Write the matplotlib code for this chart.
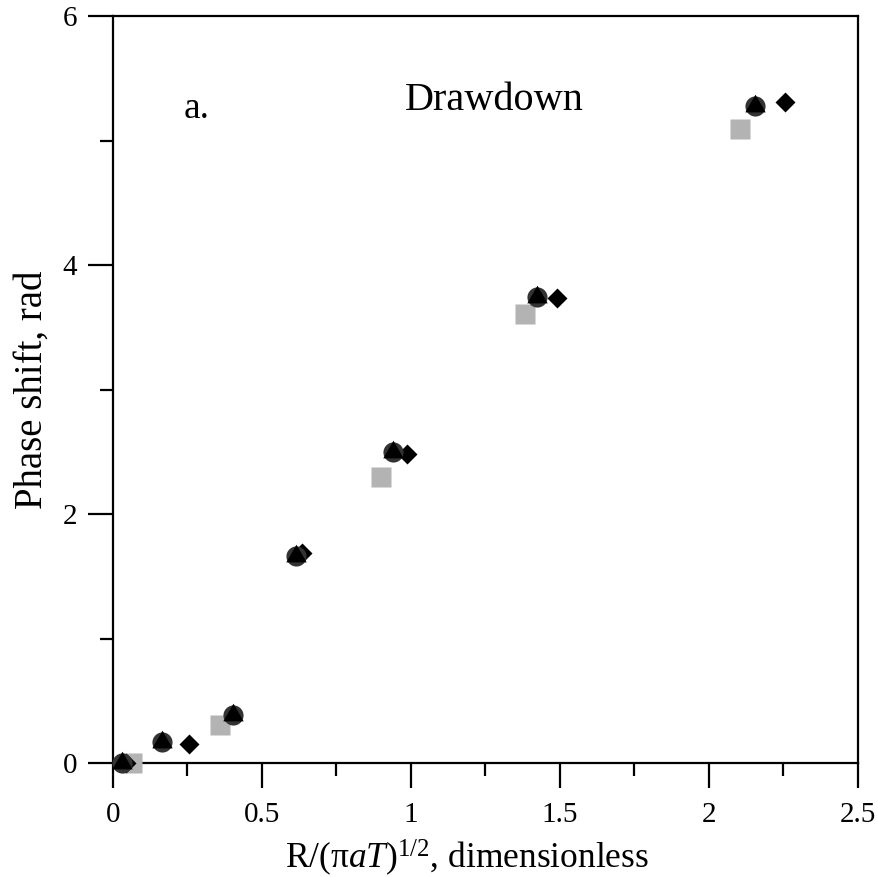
import matplotlib
matplotlib.use("Agg")
import matplotlib.pyplot as plt

plt.rcParams['font.family'] = ['Liberation Serif', 'DejaVu Serif']
plt.rcParams['mathtext.fontset'] = 'custom'
plt.rcParams['mathtext.rm'] = 'Liberation Serif'
plt.rcParams['mathtext.it'] = 'Liberation Serif:italic'

# data
circle_x = [0.03, 0.163, 0.404, 0.615, 0.941, 1.424, 2.154]
circle_y = [0.0, 0.165, 0.385, 1.665, 2.50, 3.745, 5.28]
triangle_x = [0.03, 0.163, 0.404, 0.615, 0.941, 1.424, 2.154]
triangle_y = [0.0, 0.165, 0.385, 1.665, 2.50, 3.745, 5.28]
diamond_x = [0.045, 0.255, 0.635, 0.985, 1.489, 2.255]
diamond_y = [0.0, 0.153, 1.69, 2.48, 3.737, 5.31]
square_x = [0.065, 0.359, 0.899, 1.383, 2.104]
square_y = [0.0, 0.305, 2.295, 3.61, 5.09]

xticks = [0, 0.5, 1, 1.5, 2, 2.5]
xticklabels = ['0', '0.5', '1', '1.5', '2', '2.5']
xminor = [0.25, 0.75, 1.25, 1.75, 2.25]
yticks = [0, 2, 4, 6]
yticklabels = ['0', '2', '4', '6']
yminor = [1, 3, 5]

tri_marker = [(0, 1), (-0.866, -0.5), (0.866, -0.5), (0, 1)]

fig = plt.figure(figsize=(8.79, 8.77), dpi=100)
ax = fig.add_axes([113/879, 1 - 763/877, (858-113)/879, (763-16)/877])

ax.plot(square_x, square_y, 's', color='#b3b3b3', ms=14.5, mec='none', clip_on=False, zorder=3)
ax.plot(diamond_x, diamond_y, 'D', color='black', ms=10.5, mec='none', clip_on=False, zorder=4)
ax.plot(circle_x, circle_y, 'o', color='#333333', ms=14.5, mec='none', clip_on=False, zorder=5)
ax.plot(triangle_x, triangle_y, marker=tri_marker, ls='none', color='black', ms=17,
        mec='none', clip_on=False, zorder=6)

ax.set_xlim(0, 2.5)
ax.set_ylim(0, 6)
ax.set_xticks(xticks)
ax.set_xticklabels(xticklabels)
ax.set_xticks(xminor, minor=True)
ax.set_yticks(yticks)
ax.set_yticklabels(yticklabels)
ax.set_yticks(yminor, minor=True)

for s in ax.spines.values():
    s.set_linewidth(1.6)
ax.tick_params(which='major', direction='out', length=18, width=1.6, labelsize=21, pad=10)
ax.tick_params(which='minor', direction='out', length=9.5, width=1.6)
ax.tick_params(axis='y', which='major', pad=8)

ax.set_xlabel(r'R/(π$\it{aT}$)$^{1/2}$, dimensionless', fontsize=25.5)
ax.xaxis.label.set_va('baseline')
ax.xaxis.set_label_coords(0.475, -0.1406, transform=ax.transAxes)
ax.set_ylabel('Phase shift, rad', fontsize=28)
ax.yaxis.label.set_va('baseline')
ax.yaxis.set_label_coords(-0.0953, 0.5, transform=ax.transAxes)

ax.text(0.28, 5.18, 'a.', fontsize=27, ha='center', va='baseline')
ax.text(1.28, 5.245, 'Drawdown', fontsize=29, ha='center', va='baseline')

fig.savefig('out.png', dpi=100)
